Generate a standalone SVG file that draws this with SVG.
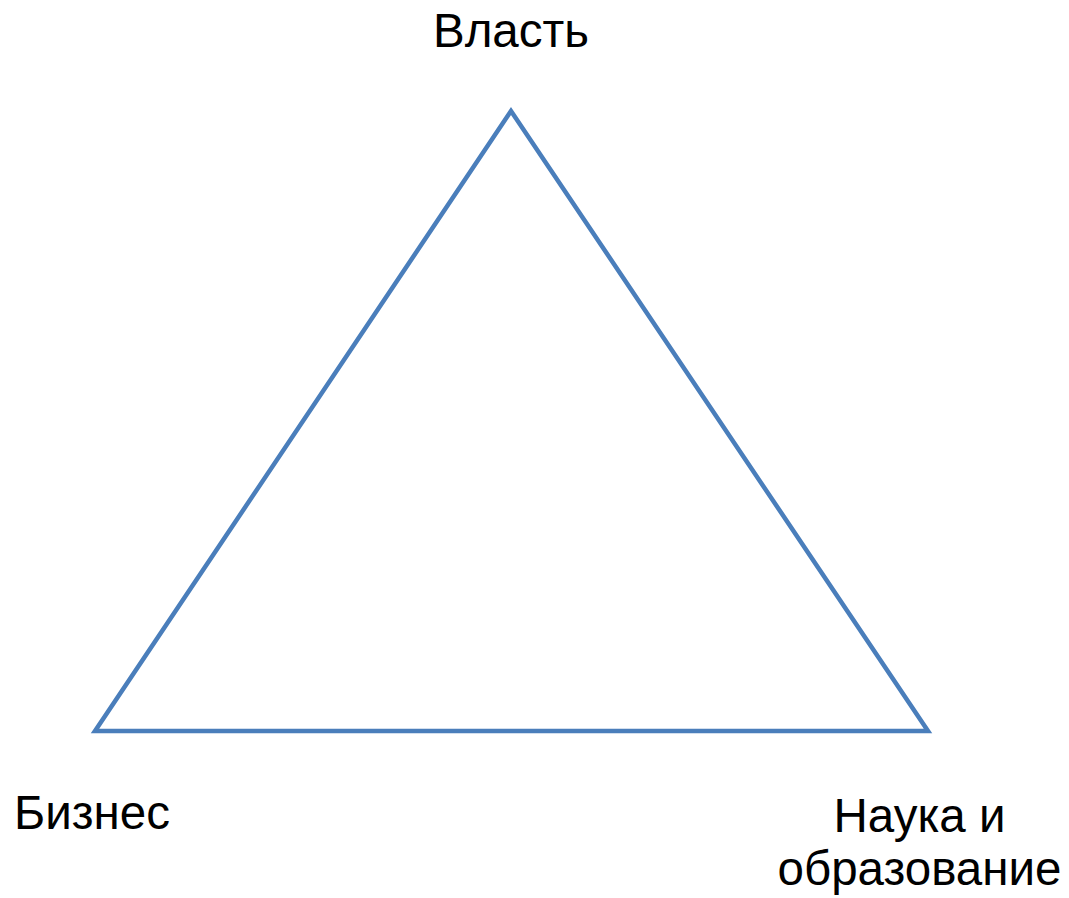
<svg xmlns="http://www.w3.org/2000/svg" width="1069" height="898" viewBox="0 0 1069 898">
<style>
.lbl{font-family:"Liberation Sans",Arial,sans-serif;font-size:47.5px;fill:#000}
.tri{fill:none;stroke:#4a7ebb;stroke-width:4.5;stroke-linejoin:miter}
</style>
<rect width="1069" height="898" fill="#fff"/>
<g id="connectors">
<polygon class="tri" points="511,111 95,731 928,731"/>
</g>
<g id="vlast"><text class="lbl" x="511" y="47" text-anchor="middle">Власть</text></g>
<g id="biznes"><text class="lbl" x="14" y="829">Бизнес</text></g>
<g id="nauka"><text class="lbl" x="919.5" y="832" text-anchor="middle">Наука и</text><text class="lbl" x="919.5" y="885" text-anchor="middle">образование</text></g>
</svg>
